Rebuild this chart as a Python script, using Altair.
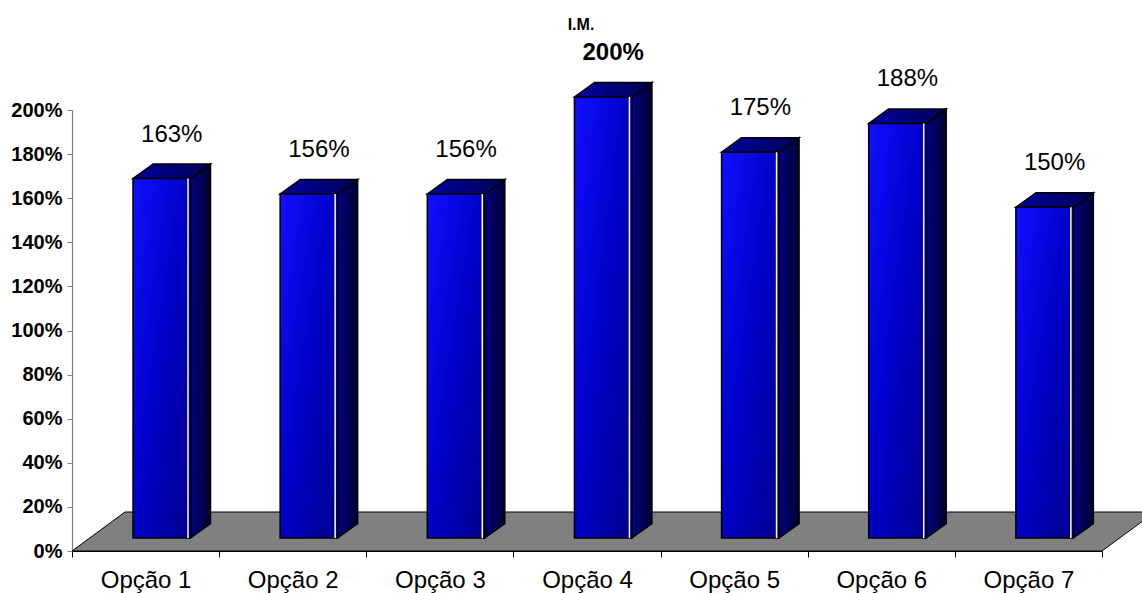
import altair as alt
import pandas as pd

categories = ["Opção 1", "Opção 2", "Opção 3", "Opção 4", "Opção 5", "Opção 6", "Opção 7"]
values = [163, 156, 156, 200, 175, 188, 150]
y_ticks = [0, 20, 40, 60, 80, 100, 120, 140, 160, 180, 200]
title_text = "I.M."

# ---- layout constants (pixels -> data units) ----
W, H = 1030, 441
N = len(categories)
YMAX = 200


def X(px):
    return px * N / W


def Y(px):
    return px * YMAX / H


FRONT_L, FRONT_R = 61, 118.5      # bar front face inside its band (px)
BAR_DEPTH = (20, 14.5)            # bar depth offset (px)
BASE_Y = 13                       # bar front bottom above axis (px)
FLOOR_DEPTH = (53, 39)            # floor depth offset (px)
LABEL_GAP = 29.5                  # value label above bar back edge (px)
FONT = "Liberation Sans"

bars = pd.DataFrame({"idx": list(range(N)), "cat": categories, "v": values})
bars["xl"] = bars["idx"] + X(FRONT_L)
bars["xr"] = bars["idx"] + X(FRONT_R)
bars["y0"] = Y(BASE_Y)
bars["y1"] = bars["y0"] + bars["v"]
bars["hl"] = bars["xr"] - X(2.5)
bars["lx"] = (bars["xl"] + bars["xr"]) / 2 + X(BAR_DEPTH[0] / 2)
bars["ly"] = bars["y1"] + Y(BAR_DEPTH[1]) + Y(LABEL_GAP)
bars["label"] = [f"{v}%" for v in values]
bars["top"] = [int(v == max(values)) for v in values]

side_rows, top_rows = [], []
for _, r in bars.iterrows():
    side_rows.append({"idx": r.idx, "x": r.xr, "lo": r.y0, "hi": r.y1})
    side_rows.append({"idx": r.idx, "x": r.xr + X(BAR_DEPTH[0]),
                      "lo": r.y0 + Y(BAR_DEPTH[1]), "hi": r.y1 + Y(BAR_DEPTH[1])})
    top_rows.append({"idx": r.idx, "y": r.y1, "a": r.xl, "b": r.xr})
    top_rows.append({"idx": r.idx, "y": r.y1 + Y(BAR_DEPTH[1]),
                     "a": r.xl + X(BAR_DEPTH[0]), "b": r.xr + X(BAR_DEPTH[0])})
side = pd.DataFrame(side_rows)
topf = pd.DataFrame(top_rows)
floor = pd.DataFrame({"y": [0, Y(FLOOR_DEPTH[1])],
                      "a": [0, X(FLOOR_DEPTH[0])],
                      "b": [N, N + X(FLOOR_DEPTH[0])]})

xs = alt.Scale(domain=[0, N], nice=False, zero=False)
ys = alt.Scale(domain=[0, YMAX], nice=False, zero=False)

cat_js = "[" + ",".join(f"'{c}'" for c in categories) + "]"
x_axis = alt.Axis(
    title=None,
    values=[i / 2 for i in range(2 * N + 1)],
    labelExpr=f"datum.value % 1 ? {cat_js}[floor(datum.value)] : ''",
    labelFont=FONT, labelFontSize=24, labelColor="#000000",
    labelPadding=11, labelOverlap=False, labelFlush=False, labelBound=False,
    domainColor="#000000", domainWidth=1.2,
    tickColor="#000000", tickSize=6, tickWidth=1,
    tickOpacity={"condition": {"test": "datum.value % 1", "value": 0}, "value": 1},
    grid=False,
)
y_axis = alt.Axis(
    title=None, values=y_ticks, labelExpr="datum.value + '%'",
    labelFont=FONT, labelFontSize=20, labelFontWeight="bold", labelColor="#000000",
    labelPadding=5, domainColor="#808080", domainWidth=1.2,
    tickColor="#808080", tickSize=5, grid=False,
)


def XE(field):
    return alt.X(field, type="quantitative", scale=xs, axis=x_axis)


def YE(field):
    return alt.Y(field, type="quantitative", scale=ys, axis=y_axis)


floor_layer = alt.Chart(floor).mark_area(
    orient="horizontal", color="#808080", stroke="#000000", strokeWidth=1
).encode(y=YE("y"), x=XE("a"), x2="b:Q")

side_layer = alt.Chart(side).mark_area(
    fill=alt.Gradient(gradient="linear", x1=0, y1=0, x2=1, y2=0,
                      stops=[alt.GradientStop(color="#000082", offset=0),
                             alt.GradientStop(color="#00002E", offset=1)]),
    stroke="#000000", strokeWidth=1.5,
).encode(x=XE("x"), y=YE("lo"), y2="hi:Q", detail="idx:N")

top_layer = alt.Chart(topf).mark_area(
    orient="horizontal",
    fill=alt.Gradient(gradient="linear", x1=0, y1=0, x2=1, y2=0,
                      stops=[alt.GradientStop(color="#00009C", offset=0),
                             alt.GradientStop(color="#000058", offset=1)]),
    stroke="#000000", strokeWidth=1.5,
).encode(y=YE("y"), x=XE("a"), x2="b:Q", detail="idx:N")

front_layer = alt.Chart(bars).mark_rect(
    fill=alt.Gradient(gradient="linear", x1=0, y1=0, x2=1, y2=1,
                      stops=[alt.GradientStop(color="#1010FF", offset=0),
                             alt.GradientStop(color="#0000C8", offset=0.5),
                             alt.GradientStop(color="#00008C", offset=1)]),
    stroke="#000000", strokeWidth=1.5,
).encode(x=XE("xl"), x2="xr:Q", y=YE("y0"), y2="y1:Q")

highlight = alt.Chart(bars).mark_rule(color="#FFFFFF", strokeWidth=1.5).encode(
    x=XE("hl"), y=YE("y0"), y2="y1:Q"
)


def label_layer(weight, flag):
    return alt.Chart(bars).transform_filter(f"datum.top == {flag}").mark_text(
        font=FONT, fontSize=24, fontWeight=weight, color="#000000",
        baseline="middle", align="center"
    ).encode(x=XE("lx"), y=YE("ly"), text="label:N")


chart = alt.layer(
    floor_layer, side_layer, top_layer, front_layer, highlight,
    label_layer("normal", 0), label_layer("bold", 1)
).properties(
    width=W, height=H,
    title=alt.TitleParams(title_text, font=FONT, fontSize=16, fontWeight="bold",
                          color="#000000", offset=8, dx=-6, anchor="middle"),
    autosize=alt.AutoSizeParams(type="none"),
    padding={"left": 72, "top": 110, "right": 40, "bottom": 42},
).configure(background="#FFFFFF").configure_view(stroke=None)

chart.save("out.html", embed_options={"renderer": "svg", "actions": False})
